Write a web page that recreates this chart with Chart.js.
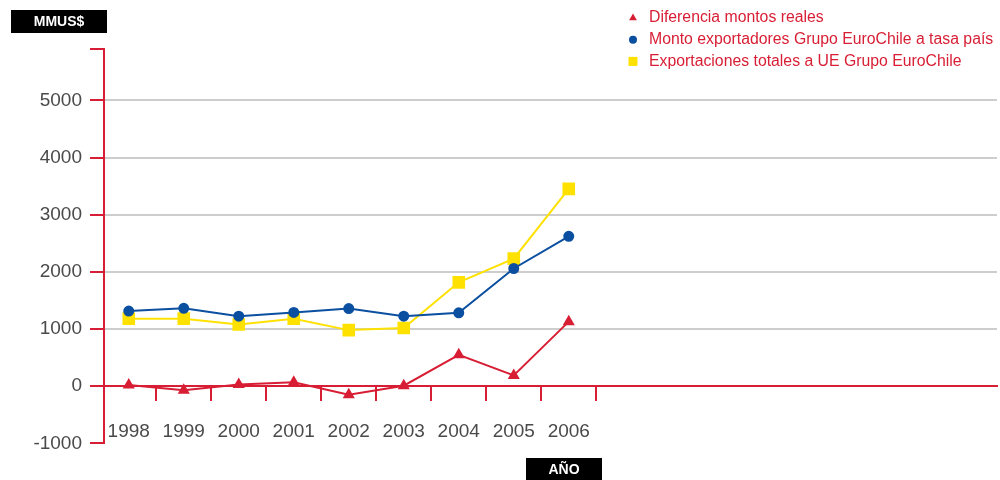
<!DOCTYPE html>
<html>
<head>
<meta charset="utf-8">
<script src="https://cdn.jsdelivr.net/npm/chart.js@4/dist/chart.umd.min.js"></script>
<style>
  html, body { margin: 0; padding: 0; background: #ffffff; }
  #wrap { width: 1000px; height: 480px; position: relative; }
</style>
</head>
<body>
<div id="wrap"><canvas id="grafico" width="1000" height="480"></canvas></div>
<script>
// Años de la serie
const years = [1998, 1999, 2000, 2001, 2002, 2003, 2004, 2005, 2006];

// Valores en millones de US$
const diferencia      = [20, -70, 30, 70, -150, 10, 550, 190, 1130];
const montoTasaPais   = [1316, 1364, 1225, 1291, 1358, 1225, 1285, 2060, 2622];
const exportacionesUE = [1182, 1182, 1080, 1182, 982, 1018, 1818, 2233, 3453];

// Nombres de las series
const seriesNames = [
  'Diferencia montos reales',
  'Monto exportadores Grupo EuroChile a tasa país',
  'Exportaciones totales a UE Grupo EuroChile'
];

// Marcas del eje vertical
const yTicks = [-1000, 0, 1000, 2000, 3000, 4000, 5000];
const yTop = 5900;

// Títulos de los ejes
const yTitle = 'MMUS$';
const xTitle = 'AÑO';

const ROJO = '#d81e34';
const AZUL = '#0b4fa0';
const AMARILLO = '#ffe100';
const TEXTO = '#4a4a4a';
const FUENTE = "'Liberation Sans', Arial, sans-serif";

const toPoints = vals => years.map((yr, i) => ({ x: yr, y: vals[i] }));

// Rótulos negros de los ejes y leyenda en la esquina superior derecha
const decoracion = {
  id: 'decoracion',
  afterDraw(chart) {
    const ctx = chart.ctx;
    ctx.save();

    const caja = (text, x, y, w, h) => {
      ctx.fillStyle = '#000000';
      ctx.fillRect(x, y, w, h);
      ctx.fillStyle = '#ffffff';
      ctx.font = 'bold 14px ' + FUENTE;
      ctx.textAlign = 'center';
      ctx.textBaseline = 'middle';
      ctx.fillText(text, x + w / 2, y + h / 2 + 1);
    };
    caja(yTitle, 11, 10, 96, 23);
    caja(xTitle, 526, 458, 76, 22);

    // Leyenda
    const mx = 633, tx = 649, y0 = 18, dy = 21.7;
    chart.data.datasets.forEach((ds, i) => {
      const y = y0 + i * dy;
      ctx.fillStyle = ds.pointBackgroundColor;
      ctx.beginPath();
      if (ds.pointStyle === 'triangle') {
        const r = 4.5;
        ctx.moveTo(mx, y - r);
        ctx.lineTo(mx + r * 0.866, y + r * 0.5);
        ctx.lineTo(mx - r * 0.866, y + r * 0.5);
        ctx.closePath();
      } else if (ds.pointStyle === 'circle') {
        ctx.arc(mx, y, 4, 0, Math.PI * 2);
      } else {
        ctx.rect(mx - 4.5, y - 4.5, 9, 9);
      }
      ctx.fill();
      ctx.fillStyle = ROJO;
      ctx.font = '15.8px ' + FUENTE;
      ctx.textAlign = 'left';
      ctx.textBaseline = 'middle';
      ctx.fillText(ds.label, tx, y);
    });
    ctx.restore();
  }
};

new Chart(document.getElementById('grafico'), {
  type: 'line',
  data: {
    datasets: [
      {
        label: seriesNames[0],
        data: toPoints(diferencia),
        borderColor: ROJO,
        backgroundColor: ROJO,
        pointBackgroundColor: ROJO,
        pointBorderColor: ROJO,
        pointStyle: 'triangle',
        pointRadius: 5,
        borderWidth: 2,
        tension: 0
      },
      {
        label: seriesNames[1],
        data: toPoints(montoTasaPais),
        borderColor: AZUL,
        backgroundColor: AZUL,
        pointBackgroundColor: AZUL,
        pointBorderColor: AZUL,
        pointStyle: 'circle',
        pointRadius: 4.5,
        borderWidth: 2,
        tension: 0
      },
      {
        label: seriesNames[2],
        data: toPoints(exportacionesUE),
        borderColor: AMARILLO,
        backgroundColor: AMARILLO,
        pointBackgroundColor: AMARILLO,
        pointBorderColor: AMARILLO,
        pointStyle: 'rect',
        pointRadius: 7.5,
        borderWidth: 2,
        tension: 0
      }
    ]
  },
  options: {
    responsive: false,
    animation: false,
    devicePixelRatio: 1,
    layout: { autoPadding: false, padding: { top: 49, left: 0, right: 3, bottom: 36.6 } },
    plugins: {
      legend: { display: false },
      tooltip: { enabled: false }
    },
    scales: {
      x: {
        type: 'linear',
        min: 1997.55,
        max: 2013.786,
        position: { y: 0 },
        afterBuildTicks: s => { s.ticks = years.map(v => ({ value: v })); },
        afterFit: s => { s.paddingLeft = 0; s.paddingRight = 0; },
        ticks: {
          autoSkip: false,
          maxRotation: 0,
          padding: 20,
          color: TEXTO,
          font: { family: FUENTE, size: 19 },
          callback: v => String(v)
        },
        grid: {
          offset: true,
          drawOnChartArea: false,
          drawTicks: true,
          tickLength: 14,
          color: ROJO,
          lineWidth: 2
        },
        border: { color: ROJO, width: 2 }
      },
      y: {
        type: 'linear',
        min: -1000,
        max: yTop,
        afterBuildTicks: s => { s.ticks = [...yTicks, yTop].map(v => ({ value: v })); },
        afterFit: s => { s.width = 104; },
        ticks: {
          autoSkip: false,
          padding: 8,
          color: TEXTO,
          font: { family: FUENTE, size: 19 },
          callback: v => (yTicks.includes(v) ? String(v) : '')
        },
        grid: {
          color: c => (c.tick && c.tick.value >= 1000 && c.tick.value <= 5000) ? '#cdcdcd' : 'rgba(0,0,0,0)',
          lineWidth: 2,
          drawTicks: true,
          tickLength: 14,
          tickColor: ROJO,
          tickWidth: 2
        },
        border: { color: ROJO, width: 2 }
      }
    }
  },
  plugins: [decoracion]
});
</script>
</body>
</html>
